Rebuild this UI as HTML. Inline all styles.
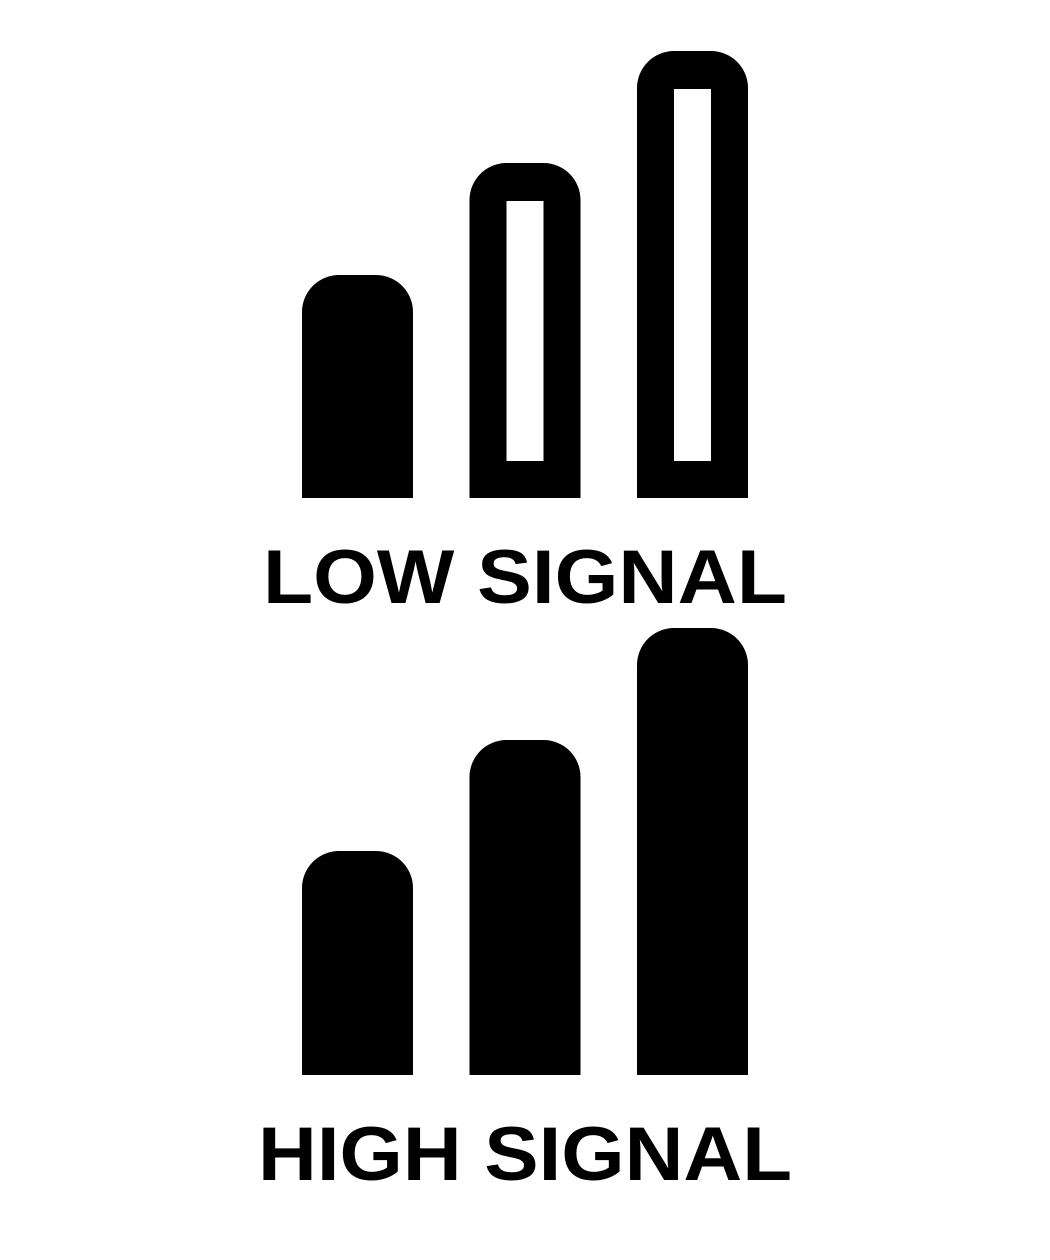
<!DOCTYPE html>
<html><head><meta charset="utf-8"><style>
html,body{margin:0;padding:0;background:#fff;}
svg{display:block;}
text{font-family:"Liberation Sans",sans-serif;font-weight:bold;fill:#000;}
</style></head><body>
<svg id="chart" width="1050" height="1260" viewBox="0 0 1050 1260" xmlns="http://www.w3.org/2000/svg">
<rect width="1050" height="1260" fill="#fff"/>
<text x="263" y="603" font-size="76" textLength="524" lengthAdjust="spacingAndGlyphs">LOW SIGNAL</text>
<text x="258" y="1180" font-size="76" textLength="534" lengthAdjust="spacingAndGlyphs">HIGH SIGNAL</text>
</svg>
<script>
const barLabels = ['bar-1','bar-2','bar-3'];
const lowSignalHeights = [223, 335, 447];
const lowSignalFilled = [true, false, false];
const highSignalHeights = [224, 335, 447];
const highSignalFilled = [true, true, true];

const svg = document.getElementById('chart');
const NS = 'http://www.w3.org/2000/svg';
const barX = i => 302 + i * 167.5;
const barW = 111, r = 37, stroke = 37;
function barPath(x, top, bottom, w) {
  return `M${x},${bottom} L${x},${top + r} A${r},${r} 0 0 1 ${x + r},${top} L${x + w - r},${top} A${r},${r} 0 0 1 ${x + w},${top + r} L${x + w},${bottom} Z`;
}
function drawGroup(heights, filled, baseY, prefix) {
  heights.forEach((h, i) => {
    const x = barX(i), top = baseY - h;
    let d = barPath(x, top, baseY, barW);
    if (!filled[i]) {
      const ix = x + stroke, iw = barW - 2 * stroke, it = top + stroke + 1, ib = baseY - stroke;
      d += ` M${ix},${it} L${ix},${ib} L${ix + iw},${ib} L${ix + iw},${it} Z`;
    }
    const p = document.createElementNS(NS, 'path');
    p.setAttribute('d', d);
    p.setAttribute('fill', '#000');
    p.setAttribute('fill-rule', 'evenodd');
    
    
    svg.appendChild(p);
  });
}
drawGroup(lowSignalHeights, lowSignalFilled, 498, 'low-signal');
drawGroup(highSignalHeights, highSignalFilled, 1075, 'high-signal');
</script>
</body></html>
